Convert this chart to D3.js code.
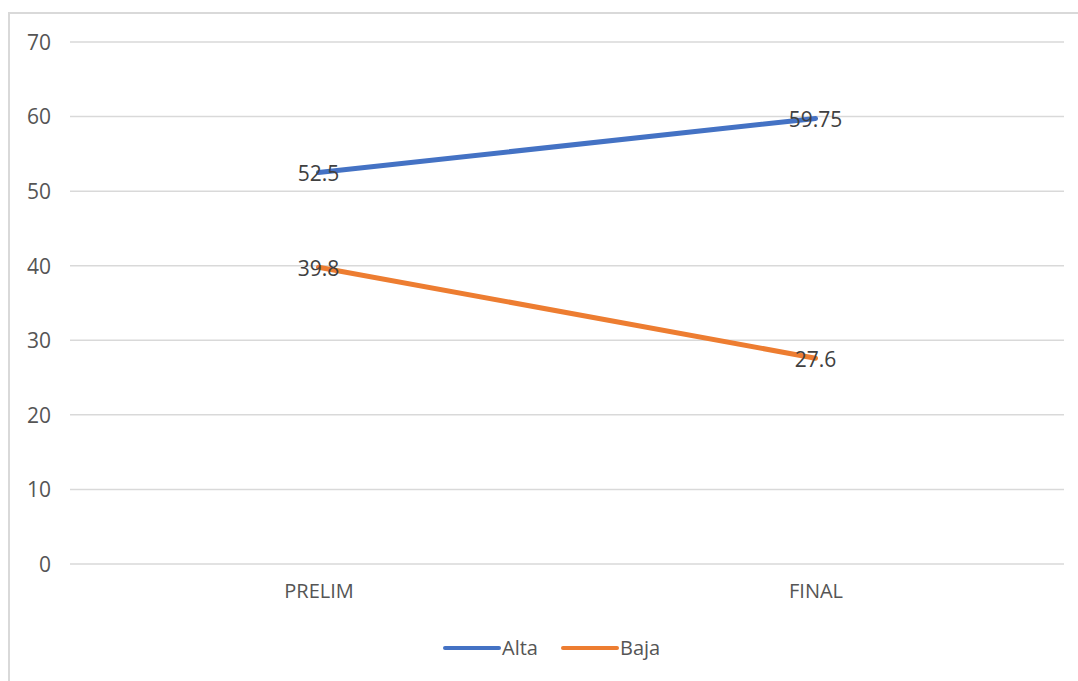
<!DOCTYPE html>
<html>
<head>
<meta charset="utf-8">
<script src="https://cdn.jsdelivr.net/npm/d3@7"></script>
<style>
  body { margin: 0; background: #fff; }
  svg { display: block; font-family: "Open Sans", "Noto Sans", sans-serif; }
</style>
</head>
<body>
<svg width="1078" height="681"></svg>
<script>
// chart data
var categories = ["PRELIM", "FINAL"];
var seriesNames = ["Alta", "Baja"];
var altaValues = [52.5, 59.75];
var bajaValues = [39.8, 27.6];
var yTicks = [0, 10, 20, 30, 40, 50, 60, 70];
var colors = ["#4472C4", "#ED7D31"];

var series = [
  { name: seriesNames[0], values: altaValues, color: colors[0] },
  { name: seriesNames[1], values: bajaValues, color: colors[1] }
];

var svg = d3.select("svg");

// outer chart border
svg.append("rect")
  .attr("x", 9).attr("y", 13)
  .attr("width", 1090).attr("height", 700)
  .attr("fill", "none")
  .attr("stroke", "#d9d9d9")
  .attr("stroke-width", 2);

// plot area (don't use "top" as a name, it clashes with window.top)
var plot = { left: 70, right: 1064, top: 42, bottom: 564 };

var x = d3.scalePoint().domain(categories).range([plot.left, plot.right]).padding(0.5);
var y = d3.scaleLinear().domain([0, 70]).range([plot.bottom, plot.top]);

// gridlines
svg.append("g")
  .selectAll("line")
  .data(yTicks)
  .enter()
    .append("line")
      .attr("x1", plot.left).attr("x2", plot.right)
      .attr("y1", function(d) { return y(d); })
      .attr("y2", function(d) { return y(d); })
      .attr("stroke", "#d9d9d9")
      .attr("stroke-width", 1.5);

// y axis labels
var yAxis = d3.axisLeft(y).tickValues(yTicks).tickSize(0).tickPadding(0);
var yg = svg.append("g").attr("transform", "translate(51,0)").call(yAxis);
yg.select(".domain").remove();
yg.selectAll("text")
  .attr("font-size", 21)
  .attr("fill", "#555")
  .attr("dy", "0.35em")
  .style("font-family", "'Open Sans', sans-serif");

// x axis labels
var xAxis = d3.axisBottom(x).tickSize(0).tickPadding(0);
var xg = svg.append("g").attr("transform", "translate(0," + (plot.bottom + 20) + ")").call(xAxis);
xg.select(".domain").remove();
xg.selectAll("text")
  .attr("font-size", 20)
  .attr("fill", "#555")
  .style("font-family", "'Open Sans', sans-serif");

// lines
var line = d3.line()
  .x(function(d, i) { return x(categories[i]); })
  .y(function(d) { return y(d); });

svg.append("g")
  .selectAll("path")
  .data(series)
  .enter()
    .append("path")
      .attr("d", function(s) { return line(s.values); })
      .attr("fill", "none")
      .attr("stroke", function(s) { return s.color; })
      .attr("stroke-width", 5)
      .attr("stroke-linecap", "round");

// data labels
series.forEach(function(s) {
  svg.append("g")
    .selectAll("text")
    .data(s.values)
    .enter()
      .append("text")
        .attr("x", function(d, i) { return x(categories[i]); })
        .attr("y", function(d) { return y(d) + 1; })
        .attr("text-anchor", "middle")
        .attr("dy", "0.36em")
        .attr("font-size", 21)
        .attr("fill", "#404040")
        .text(function(d) { return d; });
});

// legend
var legendX = [445, 563];
var legend = svg.append("g")
  .selectAll("g")
  .data(series)
  .enter()
    .append("g")
      .attr("transform", function(s, i) { return "translate(" + legendX[i] + ",648)"; });
legend.append("line")
  .attr("x1", 0).attr("x2", 54)
  .attr("stroke", function(s) { return s.color; })
  .attr("stroke-width", 4)
  .attr("stroke-linecap", "round");
legend.append("text")
  .attr("x", 57)
  .attr("dy", "0.36em")
  .attr("font-size", 20)
  .attr("fill", "#555")
  .text(function(s) { return s.name; });
</script>
</body>
</html>
